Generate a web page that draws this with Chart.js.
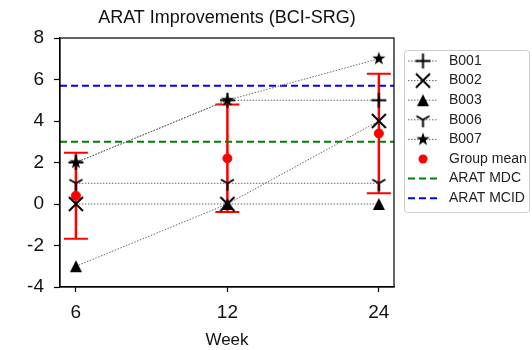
<!DOCTYPE html>
<html>
<head>
<meta charset="utf-8">
<script src="https://cdn.jsdelivr.net/npm/chart.js@4.4.0/dist/chart.umd.min.js"></script>
<style>
body { margin: 0; background: #fff; }
#wrap { width: 532px; height: 350px; }
</style>
</head>
<body>
<div id="wrap"><canvas id="grafik"></canvas></div>
<script>
// Data
const minggu = ['6', '12', '24'];
const subjek = ['B001', 'B002', 'B003', 'B006', 'B007'];
const b001 = [2, 5, 5];
const b002 = [0, 0, 4];
const b003 = [-3, 0, 0];
const b006 = [1, 1, 1];
const b007 = [2, 5, 7];
const rataRata = [0.4, 2.2, 3.4];
const simpangan = [2.07, 2.59, 2.88];
const aratMDC = [3, 3];
const aratMCID = [5.7, 5.7];
const yTicks = [-4, -2, 0, 2, 4, 6, 8];

const xMin = -0.105, xMax = 2.1;
const FONT = "'Liberation Sans', Arial, sans-serif";

// Marker buatan sendiri (gaya matplotlib)
function buatMarker(jenis, ukuran) {
    const s = Math.ceil(ukuran) + 4;
    const c = document.createElement('canvas');
    c.width = s; c.height = s;
    const g = c.getContext('2d');
    const m = s / 2, r = ukuran / 2;
    g.strokeStyle = '#000';
    g.fillStyle = '#000';
    g.lineWidth = 2;
    g.beginPath();
    if (jenis === 'plus') {
        g.moveTo(m - r, m); g.lineTo(m + r, m);
        g.moveTo(m, m - r); g.lineTo(m, m + r);
        g.stroke();
    } else if (jenis === 'x') {
        g.moveTo(m - r, m - r); g.lineTo(m + r, m + r);
        g.moveTo(m + r, m - r); g.lineTo(m - r, m + r);
        g.stroke();
    } else if (jenis === 'segitiga') {
        g.moveTo(m, m - r); g.lineTo(m + r, m + r); g.lineTo(m - r, m + r);
        g.closePath(); g.fill();
    } else if (jenis === 'tri_down') {
        g.moveTo(m, m); g.lineTo(m, m + r);
        g.moveTo(m, m); g.lineTo(m - 0.866 * r, m - 0.5 * r);
        g.moveTo(m, m); g.lineTo(m + 0.866 * r, m - 0.5 * r);
        g.stroke();
    } else if (jenis === 'bintang') {
        for (let i = 0; i < 10; i++) {
            const rr = i % 2 === 0 ? r : r * 0.4;
            const a = -Math.PI / 2 + i * Math.PI / 5;
            const px = m + rr * Math.cos(a), py = m + rr * Math.sin(a);
            if (i === 0) g.moveTo(px, py); else g.lineTo(px, py);
        }
        g.closePath(); g.fill();
    }
    return c;
}

const markerSubjek = [
    buatMarker('plus', 15),
    buatMarker('x', 14),
    buatMarker('segitiga', 12),
    buatMarker('tri_down', 15),
    buatMarker('bintang', 14)
];
const nilaiSubjek = [b001, b002, b003, b006, b007];

function keTitik(arr) {
    return arr.map((v, i) => ({ x: i, y: v }));
}

const datasets = subjek.map((nama, k) => ({
    label: nama,
    data: keTitik(nilaiSubjek[k]),
    showLine: true,
    borderColor: '#666',
    borderWidth: 1,
    borderDash: [1.5, 1.5],
    pointStyle: markerSubjek[k],
    pointRadius: 7,
    order: 1
}));

datasets.push({
    label: 'Group mean',
    data: keTitik(rataRata),
    showLine: false,
    pointStyle: 'circle',
    pointRadius: 4.5,
    pointBackgroundColor: '#ff0000',
    pointBorderColor: '#ff0000',
    order: 5
});
datasets.push({
    label: 'ARAT MDC',
    data: [{ x: xMin, y: aratMDC[0] }, { x: xMax, y: aratMDC[1] }],
    showLine: true,
    borderColor: '#008000',
    borderWidth: 2,
    borderDash: [7, 4],
    pointRadius: 0,
    order: 3
});
datasets.push({
    label: 'ARAT MCID',
    data: [{ x: xMin, y: aratMCID[0] }, { x: xMax, y: aratMCID[1] }],
    showLine: true,
    borderColor: '#0000ff',
    borderWidth: 2,
    borderDash: [7, 4],
    pointRadius: 0,
    order: 3
});

// Error bar merah (rata-rata ± SD)
const errorBarPlugin = {
    id: 'errorBar',
    beforeDatasetsDraw(chart) {
        const ctx = chart.ctx;
        const sx = chart.scales.x, sy = chart.scales.y;
        ctx.save();
        ctx.strokeStyle = '#ff0000';
        for (let i = 0; i < rataRata.length; i++) {
            const px = sx.getPixelForValue(i);
            const atas = sy.getPixelForValue(rataRata[i] + simpangan[i]);
            const bawah = sy.getPixelForValue(rataRata[i] - simpangan[i]);
            ctx.lineWidth = 2.5;
            ctx.beginPath();
            ctx.moveTo(px, atas); ctx.lineTo(px, bawah);
            ctx.stroke();
            ctx.lineWidth = 2;
            ctx.beginPath();
            ctx.moveTo(px - 12, atas); ctx.lineTo(px + 12, atas);
            ctx.moveTo(px - 12, bawah); ctx.lineTo(px + 12, bawah);
            ctx.stroke();
        }
        ctx.restore();
    }
};

// Bingkai, judul, dan legenda
const hiasanPlugin = {
    id: 'hiasan',
    afterDraw(chart) {
        const ctx = chart.ctx;
        const a = chart.chartArea;
        ctx.save();
        ctx.strokeStyle = '#000';
        ctx.lineWidth = 1.2;
        ctx.strokeRect(a.left, a.top, a.right - a.left, a.bottom - a.top);

        ctx.fillStyle = '#111';
        ctx.font = '18px ' + FONT;
        ctx.textAlign = 'center';
        ctx.textBaseline = 'middle';
        ctx.fillText('ARAT Improvements (BCI-SRG)', (a.left + a.right) / 2, 18);

        // legenda
        const lx = a.right + 10, ly = 50, lw = 125, lh = 162;
        ctx.fillStyle = 'rgba(255,255,255,0.8)';
        ctx.strokeStyle = '#cccccc';
        ctx.lineWidth = 1;
        ctx.beginPath();
        ctx.roundRect(lx + 0.5, ly + 0.5, lw, lh, 3);
        ctx.fill();
        ctx.stroke();

        const x1 = lx + 4, x2 = lx + 34, xm = (x1 + x2) / 2, xt = lx + 45;
        const baris = 19.6;
        ctx.font = '14px ' + FONT;
        ctx.textAlign = 'left';
        ctx.textBaseline = 'middle';
        chart.data.datasets.forEach((ds, i) => {
            const y = ly + 11 + i * baris;
            ctx.save();
            if (i < subjek.length) {
                ctx.strokeStyle = '#666';
                ctx.lineWidth = 1;
                ctx.setLineDash([1.5, 1.5]);
                ctx.beginPath();
                ctx.moveTo(x1, y); ctx.lineTo(x2, y);
                ctx.stroke();
                const mk = ds.pointStyle;
                ctx.drawImage(mk, xm - mk.width / 2, y - mk.height / 2);
            } else if (ds.label === 'Group mean') {
                ctx.fillStyle = '#ff0000';
                ctx.beginPath();
                ctx.arc(xm, y, 4.5, 0, Math.PI * 2);
                ctx.fill();
            } else {
                ctx.strokeStyle = ds.borderColor;
                ctx.lineWidth = 2;
                ctx.setLineDash([7, 4]);
                ctx.beginPath();
                ctx.moveTo(x1, y); ctx.lineTo(x2, y);
                ctx.stroke();
            }
            ctx.restore();
            ctx.fillStyle = '#222';
            ctx.fillText(ds.label, xt, y);
        });
        ctx.restore();
    }
};

new Chart(document.getElementById('grafik'), {
    type: 'scatter',
    data: { datasets: datasets },
    options: {
        responsive: true,
        maintainAspectRatio: false,
        animation: false,
        layout: { padding: { top: 38, right: 138, left: 0, bottom: 0 } },
        plugins: {
            legend: { display: false },
            tooltip: { enabled: false },
            title: { display: false }
        },
        scales: {
            x: {
                type: 'linear',
                min: xMin,
                max: xMax,
                afterBuildTicks: s => { s.ticks = minggu.map((m, i) => ({ value: i })); },
                afterFit: s => { s.height = 63; },
                ticks: {
                    color: '#111',
                    font: { family: FONT, size: 19 },
                    padding: 9,
                    callback: v => minggu[v]
                },
                grid: { drawOnChartArea: false, drawTicks: true, tickLength: 5, tickColor: '#000', tickWidth: 1.2 },
                border: { display: true, color: '#000', width: 1.2 },
                title: {
                    display: true,
                    text: 'Week',
                    color: '#111',
                    font: { family: FONT, size: 17 },
                    padding: { top: 0, bottom: -1 }
                }
            },
            y: {
                min: -4,
                max: 8,
                afterBuildTicks: s => { s.ticks = yTicks.map(v => ({ value: v })); },
                afterFit: s => { s.width = 60; },
                ticks: {
                    color: '#111',
                    font: { family: FONT, size: 19 },
                    padding: 10,
                    callback: v => String(v)
                },
                grid: { drawOnChartArea: false, drawTicks: true, tickLength: 6, tickColor: '#000', tickWidth: 1.2 },
                border: { display: true, color: '#000', width: 1.2 }
            }
        }
    },
    plugins: [errorBarPlugin, hiasanPlugin]
});
</script>
</body>
</html>
